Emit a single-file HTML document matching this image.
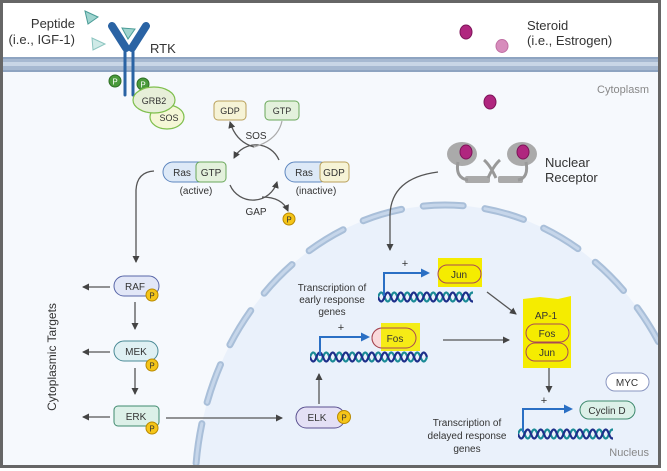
<!DOCTYPE html>
<html><head><meta charset="utf-8"><style>
html,body{margin:0;padding:0;background:#fff;width:667px;height:471px;overflow:hidden}
svg{display:block}
text{font-family:"Liberation Sans",sans-serif;fill:#333}
</style></head><body>
<svg width="667" height="471" viewBox="0 0 667 471" xmlns="http://www.w3.org/2000/svg">
<defs>
<marker id="ah" markerWidth="8" markerHeight="8" refX="6" refY="4" orient="auto" markerUnits="userSpaceOnUse"><path d="M0,0.5 L7,4 L0,7.5 Z" fill="#444"/></marker>
<marker id="bh" markerWidth="10" markerHeight="10" refX="7" refY="5" orient="auto" markerUnits="userSpaceOnUse"><path d="M0,0.5 L9,5 L0,9.5 Z" fill="#2a6fc4"/></marker>
<clipPath id="cl"><rect x="3" y="72" width="655" height="393"/></clipPath>
<path id="s1" d="M0,0 q3.25,-9 6.5,0 q3.25,9 6.5,0 q3.25,-9 6.5,0 q3.25,9 6.5,0 q3.25,-9 6.5,0 q3.25,9 6.5,0 q3.25,-9 6.5,0 q3.25,9 6.5,0 q3.25,-9 6.5,0 q3.25,9 6.5,0 q3.25,-9 6.5,0 q3.25,9 6.5,0 q3.25,-9 6.5,0 q3.25,9 6.5,0 q3.25,-9 6.5,0 q3.25,9 6.5,0 q3.25,-9 6.5,0 q3.25,9 6.5,0" fill="none" stroke="#1a8a96" stroke-width="2.2"/>
<path id="s2" d="M0,0 q3.25,9 6.5,0 q3.25,-9 6.5,0 q3.25,9 6.5,0 q3.25,-9 6.5,0 q3.25,9 6.5,0 q3.25,-9 6.5,0 q3.25,9 6.5,0 q3.25,-9 6.5,0 q3.25,9 6.5,0 q3.25,-9 6.5,0 q3.25,9 6.5,0 q3.25,-9 6.5,0 q3.25,9 6.5,0 q3.25,-9 6.5,0 q3.25,9 6.5,0 q3.25,-9 6.5,0 q3.25,9 6.5,0 q3.25,-9 6.5,0" fill="none" stroke="#1d2f8a" stroke-width="2.2"/>
<g id="dna"><use href="#s1"/><use href="#s2"/></g>
</defs>
<rect x="0" y="0" width="667" height="471" fill="#fff"/>
<rect x="1.5" y="1.5" width="658" height="465" fill="#fff" stroke="#666" stroke-width="3"/>
<rect x="3" y="72" width="655" height="393" fill="#f6f9fd"/>
<g clip-path="url(#cl)">
<ellipse cx="445" cy="490" rx="250" ry="285" fill="#eaf1fb"/>
<ellipse cx="445" cy="490" rx="250" ry="285" fill="none" stroke="#a9bfd9" stroke-width="7" stroke-linecap="round" stroke-dasharray="40 22"/>
<ellipse cx="445" cy="490" rx="250" ry="285" fill="none" stroke="#c6d6ea" stroke-width="3" stroke-linecap="round" stroke-dasharray="40 22"/>
</g>
<rect x="3" y="57" width="655" height="15" fill="#a7b9d1"/>
<rect x="3" y="62" width="655" height="4" fill="#c9d6e6"/>
<rect x="3" y="57" width="655" height="2" fill="#8ea4c1"/>
<rect x="3" y="70" width="655" height="2" fill="#8ea4c1"/>
<text x="75" y="28" font-size="13" text-anchor="end">Peptide</text>
<text x="75" y="44" font-size="13" text-anchor="end">(i.e., IGF-1)</text>
<text x="150" y="53" font-size="13">RTK</text>
<text x="527" y="30" font-size="13">Steroid</text>
<text x="527" y="45" font-size="13">(i.e., Estrogen)</text>
<text x="649" y="93" font-size="11" style="fill:#888" text-anchor="end">Cytoplasm</text>
<text x="649" y="456" font-size="11" style="fill:#888" text-anchor="end">Nucleus</text>
<path d="M85,11 L98,17 L88,24 Z" fill="#9fd4cf" stroke="#4a9c97" stroke-width="1"/>
<path d="M122,28 L135,29 L128,39 Z" fill="#9fd4cf" stroke="#4a9c97" stroke-width="1"/>
<path d="M92,38 L105,44 L93,50 Z" fill="#cfeae7" stroke="#8cc5c0" stroke-width="1"/>
<g stroke="#2a63a4" stroke-linecap="round" fill="none">
<path d="M112,26 L126,48" stroke-width="8"/>
<path d="M146,26 L132,48" stroke-width="8"/>
<path d="M125,50 L125,95 M133,50 L133,95" stroke-width="3"/>
</g>
<circle cx="115" cy="81" r="6" fill="#4a9a3b" stroke="#2e6e25"/>
<text x="115" y="84.5" font-size="8" text-anchor="middle" style="fill:#fff">P</text>
<circle cx="143" cy="84" r="6" fill="#4a9a3b" stroke="#2e6e25"/>
<text x="143" y="87.5" font-size="8" text-anchor="middle" style="fill:#fff">P</text>
<ellipse cx="167" cy="117" rx="17" ry="12" fill="#f5f7d6" stroke="#7fbf4d" stroke-width="1.2"/>
<ellipse cx="154" cy="100" rx="21" ry="13" fill="#e7efd9" stroke="#7fbf4d" stroke-width="1.2"/>
<text x="154" y="104" font-size="9" text-anchor="middle">GRB2</text>
<text x="169" y="121" font-size="9" text-anchor="middle">SOS</text>
<ellipse cx="466" cy="32" rx="6" ry="7" fill="#b0267f" stroke="#7d1459"/>
<ellipse cx="502" cy="46" rx="6" ry="6.5" fill="#d78cbc" stroke="#c06ea3"/>
<ellipse cx="490" cy="102" rx="6" ry="7" fill="#b0267f" stroke="#7d1459"/>
<g fill="#aaa">
<ellipse cx="462" cy="154" rx="15" ry="12"/>
<ellipse cx="522" cy="154" rx="15" ry="12"/>
<rect x="465" y="176" width="25" height="7" rx="2"/>
<rect x="498" y="176" width="25" height="7" rx="2"/>
</g>
<path d="M458,162 Q455,178 468,180 M526,162 Q529,178 518,180 M488,178 Q494,165 500,160 M496,178 Q490,165 484,160" stroke="#999" stroke-width="3" fill="none"/>
<ellipse cx="466" cy="152" rx="6" ry="7" fill="#b0267f" stroke="#7d1459"/>
<ellipse cx="523" cy="152" rx="6" ry="7" fill="#b0267f" stroke="#7d1459"/>
<text x="545" y="167" font-size="13">Nuclear</text>
<text x="545" y="182" font-size="13">Receptor</text>
<rect x="214" y="101" width="32" height="19" rx="4" fill="#f6f3d6" stroke="#b9a05a"/>
<text x="230" y="114" font-size="9" text-anchor="middle">GDP</text>
<rect x="265" y="101" width="34" height="19" rx="4" fill="#e3f1dc" stroke="#6aa85a"/>
<text x="282" y="114" font-size="9" text-anchor="middle">GTP</text>
<text x="256" y="139" font-size="10" text-anchor="middle">SOS</text>
<text x="256" y="215" font-size="10" text-anchor="middle">GAP</text>
<path d="M279,160 A25,25 0 0 0 234,158" stroke="#555" stroke-width="1.3" fill="none" marker-end="url(#ah)"/>
<path d="M230,185 A25,25 0 0 0 277,182" stroke="#555" stroke-width="1.3" fill="none" marker-end="url(#ah)"/>
<path d="M254,147 Q236,142 230,122" stroke="#555" stroke-width="1.3" fill="none" marker-end="url(#ah)"/>
<path d="M254,147 Q278,140 282,121" stroke="#aaa" stroke-width="1.2" fill="none"/>
<path d="M262,197 Q282,197 288,211" stroke="#555" stroke-width="1.3" fill="none" marker-end="url(#ah)"/>
<circle cx="289" cy="219" r="6" fill="#f5c518" stroke="#b98a00"/>
<text x="289" y="222.5" font-size="8" text-anchor="middle">P</text>
<rect x="163" y="162" width="45" height="20" rx="10" fill="#dde9f7" stroke="#5d86bf"/>
<text x="182" y="176" font-size="10" text-anchor="middle">Ras</text>
<rect x="196" y="162" width="30" height="20" rx="4" fill="#e3f1dc" stroke="#6aa85a"/>
<text x="211" y="176" font-size="10" text-anchor="middle">GTP</text>
<text x="196" y="194" font-size="10" text-anchor="middle">(active)</text>
<rect x="285" y="162" width="45" height="20" rx="10" fill="#dde9f7" stroke="#5d86bf"/>
<text x="304" y="176" font-size="10" text-anchor="middle">Ras</text>
<rect x="320" y="162" width="29" height="20" rx="4" fill="#f6f3d6" stroke="#b9a05a"/>
<text x="334" y="176" font-size="10" text-anchor="middle">GDP</text>
<text x="316" y="194" font-size="10" text-anchor="middle">(inactive)</text>
<path d="M154,171 Q137,172 136,190 L136,262" stroke="#555" stroke-width="1.3" fill="none" marker-end="url(#ah)"/>
<rect x="114" y="276" width="45" height="20" rx="10" fill="#e2e7f7" stroke="#5866a8"/>
<text x="135" y="290" font-size="10" text-anchor="middle">RAF</text>
<rect x="114" y="341" width="44" height="20" rx="10" fill="#dff0f3" stroke="#4a8a96"/>
<text x="136" y="355" font-size="10" text-anchor="middle">MEK</text>
<rect x="114" y="406" width="45" height="20" rx="4" fill="#dcf0e8" stroke="#3f8a6e"/>
<text x="136" y="420" font-size="10" text-anchor="middle">ERK</text>
<circle cx="152" cy="295" r="6" fill="#f5c518" stroke="#b98a00"/><text x="152" y="298.5" font-size="8" text-anchor="middle">P</text>
<circle cx="152" cy="365" r="6" fill="#f5c518" stroke="#b98a00"/><text x="152" y="368.5" font-size="8" text-anchor="middle">P</text>
<circle cx="152" cy="428" r="6" fill="#f5c518" stroke="#b98a00"/><text x="152" y="431.5" font-size="8" text-anchor="middle">P</text>
<g stroke="#555" stroke-width="1.3" fill="none">
<path d="M135,302 L135,329" marker-end="url(#ah)"/>
<path d="M135,368 L135,394" marker-end="url(#ah)"/>
<path d="M110,287 L83,287" marker-end="url(#ah)"/>
<path d="M110,352 L83,352" marker-end="url(#ah)"/>
<path d="M110,417 L83,417" marker-end="url(#ah)"/>
<path d="M166,418 L282,418" marker-end="url(#ah)"/>
<path d="M319,404 L319,374" marker-end="url(#ah)"/>
<path d="M438,172 Q391,178 390,215 L390,250" marker-end="url(#ah)"/>
<path d="M487,292 L516,314" marker-end="url(#ah)"/>
<path d="M443,340 L509,340" marker-end="url(#ah)"/>
<path d="M549,367 L549,392" marker-end="url(#ah)"/>
</g>
<text transform="translate(56,357) rotate(-90)" font-size="12" text-anchor="middle">Cytoplasmic Targets</text>
<rect x="296" y="407" width="49" height="21" rx="10.5" fill="#e4e0f5" stroke="#5a5090"/>
<text x="317" y="421" font-size="10" text-anchor="middle">ELK</text>
<circle cx="344" cy="417" r="6.5" fill="#f5c518" stroke="#b98a00"/><text x="344" y="420.5" font-size="8" text-anchor="middle">P</text>
<text x="332" y="291" font-size="10" text-anchor="middle">Transcription of</text>
<text x="332" y="303" font-size="10" text-anchor="middle">early response</text>
<text x="332" y="315" font-size="10" text-anchor="middle">genes</text>
<svg x="310" y="347" width="118" height="20" viewBox="0 -10 118 20" overflow="hidden"><use href="#dna"/></svg>
<path d="M320,356 L320,337 L368,337" stroke="#2a6fc4" stroke-width="2" fill="none" marker-end="url(#bh)"/>
<text x="341" y="331" font-size="11" text-anchor="middle">+</text>
<rect x="372" y="328" width="44" height="20" rx="10" fill="#f9d9db" stroke="#a84a55"/>
<rect x="381" y="323" width="39" height="28" fill="#f5ec00" opacity="0.9"/>
<rect x="372" y="328" width="44" height="20" rx="10" fill="none" stroke="#a84a55"/>
<text x="395" y="342" font-size="10" text-anchor="middle">Fos</text>
<svg x="378" y="287" width="95" height="20" viewBox="0 -10 95 20" overflow="hidden"><use href="#dna"/></svg>
<path d="M384,296 L384,273 L428,273" stroke="#2a6fc4" stroke-width="2" fill="none" marker-end="url(#bh)"/>
<text x="405" y="267" font-size="11" text-anchor="middle">+</text>
<rect x="438" y="258" width="44" height="29" fill="#f5ec00"/>
<rect x="438" y="265" width="43" height="18" rx="9" fill="none" stroke="#a84a55"/>
<text x="459" y="278" font-size="10" text-anchor="middle">Jun</text>
<path d="M523,299 L540,297 L558,299 L571,296 L571,368 L523,368 Z" fill="#f5ec00"/>
<text x="546" y="319" font-size="10" text-anchor="middle">AP-1</text>
<rect x="526" y="324" width="43" height="18" rx="9" fill="none" stroke="#a84a55"/>
<text x="547" y="337" font-size="10" text-anchor="middle">Fos</text>
<rect x="526" y="343" width="42" height="18" rx="9" fill="none" stroke="#a84a55"/>
<text x="547" y="356" font-size="10" text-anchor="middle">Jun</text>
<text x="544" y="404" font-size="11" text-anchor="middle">+</text>
<svg x="518" y="424" width="95" height="20" viewBox="0 -10 95 20" overflow="hidden"><use href="#dna"/></svg>
<path d="M523,432 L523,409 L571,409" stroke="#2a6fc4" stroke-width="2" fill="none" marker-end="url(#bh)"/>
<rect x="580" y="401" width="55" height="18" rx="9" fill="#dcf0e8" stroke="#3f8a6e"/>
<text x="607" y="414" font-size="10" text-anchor="middle">Cyclin D</text>
<rect x="606" y="373" width="43" height="18" rx="9" fill="#fff" stroke="#8a96c0"/>
<text x="627" y="386" font-size="10" text-anchor="middle">MYC</text>
<text x="467" y="426" font-size="10" text-anchor="middle">Transcription of</text>
<text x="467" y="439" font-size="10" text-anchor="middle">delayed response</text>
<text x="467" y="452" font-size="10" text-anchor="middle">genes</text>
</svg>
</body></html>
